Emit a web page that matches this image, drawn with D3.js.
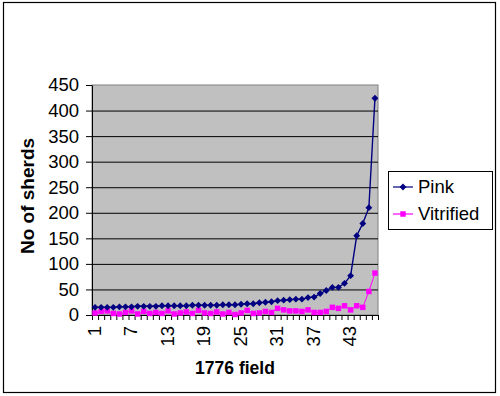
<!DOCTYPE html>
<html>
<head>
<meta charset="utf-8">
<script src="https://cdn.jsdelivr.net/npm/d3@7"></script>
<style>
  body { margin: 0; background: #fff; }
  svg text { font-family: Arial, "Liberation Sans", sans-serif; fill: #000; }
</style>
</head>
<body>
<div id="chart"></div>
<script>
// ---- data ----
const fields = d3.range(1, 48);          // 1776 field, 47 categories
const xLabels = [1, 7, 13, 19, 25, 31, 37, 43];
const yTicks = [0, 50, 100, 150, 200, 250, 300, 350, 400, 450];

const pink = [15, 15, 15, 15, 16, 16, 16, 17, 17, 17,
              17, 18, 18, 18, 18, 18, 19, 19, 19, 19,
              19, 20, 20, 20, 21, 22, 22, 24, 25, 26,
              28, 29, 30, 31, 31, 34, 35, 42, 48, 54,
              54, 62, 77, 155, 179, 210, 424];
const vitrified = [4, 7, 8, 3, 2, 5, 8, 2, 7, 3,
                   5, 3, 8, 2, 4, 6, 3, 9, 4, 3,
                   6, 2, 5, 1, 4, 9, 3, 4, 7, 5,
                   13, 10, 8, 8, 7, 10, 5, 5, 7, 15,
                   13, 18, 10, 18, 15, 46, 82];

// ---- svg ----
const W = 500, H = 396;
const plot = { left: 92, right: 378, top: 85, bottom: 315 };

const svg = d3.select("#chart").append("svg")
  .attr("width", W)
  .attr("height", H);

// outer frame
svg.append("rect")
  .attr("x", 3.5).attr("y", 2.5)
  .attr("width", 492).attr("height", 390)
  .attr("fill", "#fff")
  .attr("stroke", "#000")
  .attr("stroke-width", 1.2);

// ---- scales ----
const x = d3.scaleLinear()
  .domain([0.5, fields.length + 0.5])
  .range([plot.left, plot.right]);
const y = d3.scaleLinear()
  .domain([0, 450])
  .range([plot.bottom, plot.top]);

// plot area
svg.append("rect")
  .attr("x", plot.left).attr("y", plot.top)
  .attr("width", plot.right - plot.left)
  .attr("height", plot.bottom - plot.top)
  .attr("fill", "#c0c0c0")
  .attr("stroke", "#808080")
  .attr("stroke-width", 1);

// gridlines
svg.append("g")
  .attr("transform", `translate(${plot.left},0)`)
  .call(d3.axisLeft(y).tickValues(yTicks.slice(1, -1)).tickSize(-(plot.right - plot.left)).tickFormat(""))
  .call(g => g.select(".domain").remove())
  .call(g => g.selectAll("line").attr("stroke", "#000").attr("stroke-width", 1));

// y axis
svg.append("g")
  .attr("transform", `translate(${plot.left},0)`)
  .call(d3.axisLeft(y).tickValues(yTicks).tickSize(6).tickPadding(7).tickSizeOuter(0))
  .call(g => g.select(".domain").attr("stroke", "#000"))
  .call(g => g.selectAll(".tick line").attr("stroke", "#000"))
  .call(g => g.selectAll(".tick text").style("font-size", "18.5px"));

// x axis: ticks between categories
svg.append("g")
  .attr("transform", `translate(0,${plot.bottom})`)
  .call(d3.axisBottom(x).tickValues(d3.range(0.5, fields.length + 1, 1)).tickSize(5).tickFormat("").tickSizeOuter(0))
  .call(g => g.select(".domain").attr("stroke", "#000"))
  .call(g => g.selectAll(".tick line").attr("stroke", "#000"));

svg.append("g")
  .selectAll("text")
  .data(xLabels)
  .join("text")
  .attr("transform", d => `translate(${x(d) - 1},${plot.bottom + 11}) rotate(-90)`)
  .attr("text-anchor", "end")
  .attr("dy", "0.35em")
  .style("font-size", "18.5px")
  .text(d => d);

// ---- lines ----
const series = [
  { name: "Pink", values: pink, color: "#000080", marker: "diamond" },
  { name: "Vitrified", values: vitrified, color: "#ff00ff", marker: "square" }
];

const line = d3.line()
  .x((d, i) => x(fields[i]))
  .y(d => y(d));

const diamond = d3.symbol().type(d3.symbolDiamond2).size(30);
const square = d3.symbol().type(d3.symbolSquare).size(30);

series.slice().reverse().forEach(s => {
  svg.append("path")
    .attr("d", line(s.values))
    .attr("fill", "none")
    .attr("stroke", s.color)
    .attr("stroke-width", s.marker === "diamond" ? 1.4 : 1);
  svg.append("g")
    .selectAll("path")
    .data(s.values)
    .join("path")
    .attr("transform", (d, i) => `translate(${x(fields[i])},${y(d)})`)
    .attr("d", s.marker === "diamond" ? diamond() : square())
    .attr("fill", s.color);
});

// ---- axis titles ----
svg.append("text")
  .attr("transform", "translate(34,196) rotate(-90)")
  .attr("text-anchor", "middle")
  .style("font-size", "19px")
  .style("font-weight", "bold")
  .text("No of sherds");

svg.append("text")
  .attr("x", 235).attr("y", 374)
  .attr("text-anchor", "middle")
  .style("font-size", "17.5px")
  .style("font-weight", "bold")
  .text("1776 field");

// ---- legend ----
const legend = svg.append("g").attr("transform", "translate(388,171)");
legend.append("rect")
  .attr("x", 0.5).attr("y", 0.5)
  .attr("width", 104).attr("height", 58)
  .attr("fill", "#fff")
  .attr("stroke", "#000");

const item = legend.selectAll("g.item")
  .data(series)
  .join("g")
  .attr("class", "item")
  .attr("transform", (d, i) => `translate(0,${16 + i * 27})`);
item.append("line")
  .attr("x1", 5).attr("x2", 25)
  .attr("stroke", d => d.color)
  .attr("stroke-width", 1.2);
item.append("path")
  .attr("transform", "translate(15,0)")
  .attr("d", d => d.marker === "diamond" ? diamond() : square())
  .attr("fill", d => d.color);
item.append("text")
  .attr("x", 30)
  .attr("dy", "0.35em")
  .style("font-size", "18.5px")
  .text(d => d.name);
</script>
</body>
</html>
